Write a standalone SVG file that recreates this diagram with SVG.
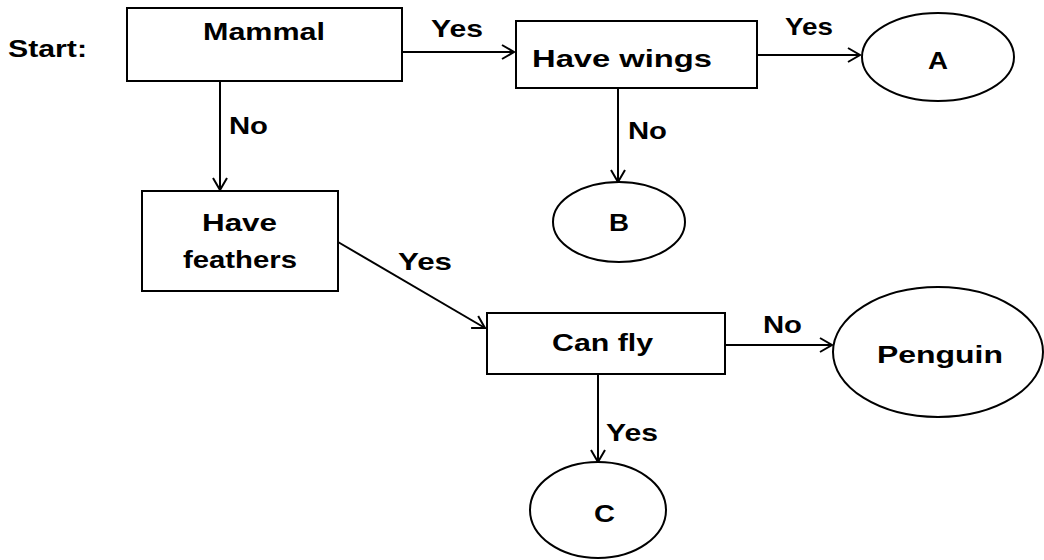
<svg xmlns="http://www.w3.org/2000/svg" width="1044" height="560" viewBox="0 0 1044 560">
<style>
.box{fill:#fff;stroke:#000;stroke-width:2}
.ell{fill:#fff;stroke:#000;stroke-width:2}
.t{font-family:"Liberation Sans",Arial,sans-serif;font-weight:bold;font-size:24px;fill:#000}
.ln{stroke:#000;stroke-width:2;fill:none;marker-end:url(#arr)}
</style>
<defs>
<marker id="arr" viewBox="-14 -10 16 20" refX="0" refY="0" markerWidth="16" markerHeight="20" markerUnits="userSpaceOnUse" orient="auto">
<path d="M-12,-7 L0,0 L-12,7" fill="none" stroke="#000" stroke-width="2"/>
</marker>
</defs>
<rect width="1044" height="560" fill="#fff"/>
<text class="t" x="8" y="57" textLength="79" lengthAdjust="spacingAndGlyphs">Start:</text>
<g id="connectors">
<line class="ln" x1="402" y1="52" x2="514" y2="52"/>
<line class="ln" x1="757" y1="55" x2="860" y2="55"/>
<line class="ln" x1="618" y1="88" x2="618" y2="182"/>
<line class="ln" x1="220" y1="81" x2="220" y2="190"/>
<line class="ln" x1="338" y1="242" x2="485" y2="328"/>
<line class="ln" x1="725" y1="345" x2="832" y2="345"/>
<line class="ln" x1="598" y1="374" x2="598" y2="462"/>
<text class="t" x="431" y="37" textLength="52" lengthAdjust="spacingAndGlyphs">Yes</text>
<text class="t" x="785" y="35" textLength="48" lengthAdjust="spacingAndGlyphs">Yes</text>
<text class="t" x="628" y="139" textLength="39" lengthAdjust="spacingAndGlyphs">No</text>
<text class="t" x="229" y="134" textLength="39" lengthAdjust="spacingAndGlyphs">No</text>
<text class="t" x="398" y="270" textLength="54" lengthAdjust="spacingAndGlyphs">Yes</text>
<text class="t" x="763" y="333" textLength="39" lengthAdjust="spacingAndGlyphs">No</text>
<text class="t" x="606" y="441" textLength="52" lengthAdjust="spacingAndGlyphs">Yes</text>
</g>
<g id="mammal">
<rect class="box" x="127" y="8" width="275" height="73"/>
<text class="t" x="203" y="40" textLength="122" lengthAdjust="spacingAndGlyphs">Mammal</text>
</g>
<g id="have-wings">
<rect class="box" x="516" y="21" width="241" height="67"/>
<text class="t" x="532" y="67" textLength="180" lengthAdjust="spacingAndGlyphs">Have wings</text>
</g>
<g id="node-a">
<ellipse class="ell" cx="938" cy="57" rx="76" ry="44"/>
<text class="t" x="928" y="69" textLength="20" lengthAdjust="spacingAndGlyphs">A</text>
</g>
<g id="node-b">
<ellipse class="ell" cx="619" cy="222" rx="66" ry="40"/>
<text class="t" x="609" y="231" textLength="20" lengthAdjust="spacingAndGlyphs">B</text>
</g>
<g id="have-feathers">
<rect class="box" x="142" y="191" width="196" height="100"/>
<text class="t" x="202" y="231" textLength="75" lengthAdjust="spacingAndGlyphs">Have</text>
<text class="t" x="183" y="268" textLength="114" lengthAdjust="spacingAndGlyphs">feathers</text>
</g>
<g id="can-fly">
<rect class="box" x="487" y="313" width="238" height="61"/>
<text class="t" x="552" y="351" textLength="101" lengthAdjust="spacingAndGlyphs">Can fly</text>
</g>
<g id="penguin">
<ellipse class="ell" cx="938" cy="352" rx="105" ry="65"/>
<text class="t" x="877" y="363" textLength="126" lengthAdjust="spacingAndGlyphs">Penguin</text>
</g>
<g id="node-c">
<ellipse class="ell" cx="598" cy="510" rx="68" ry="48"/>
<text class="t" x="594" y="522" textLength="21" lengthAdjust="spacingAndGlyphs">C</text>
</g>
</svg>
